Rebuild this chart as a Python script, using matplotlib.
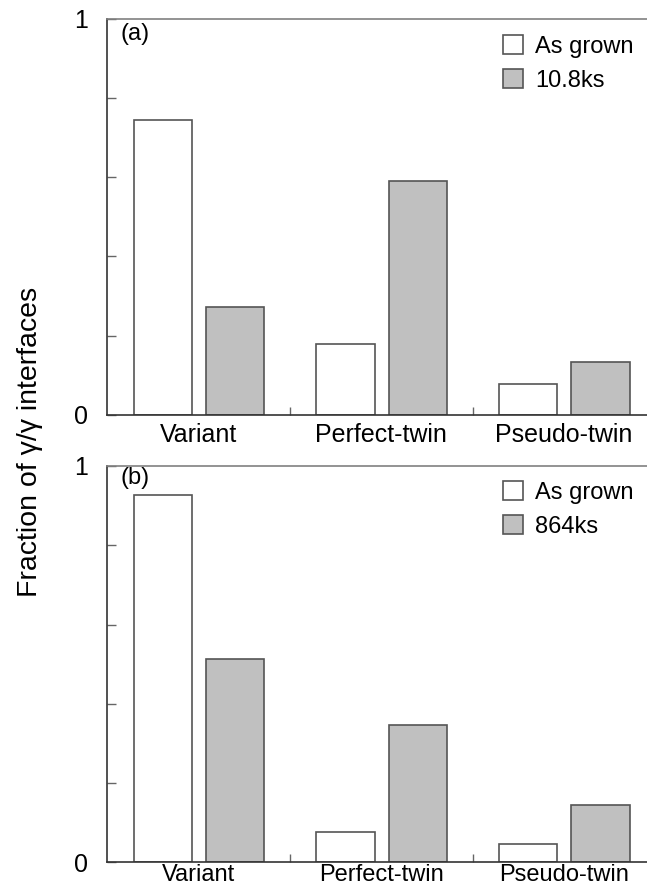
import matplotlib
matplotlib.use("Agg")
import matplotlib.pyplot as plt
import numpy as np

plt.rcParams['font.family'] = ['Liberation Sans', 'DejaVu Sans']

categories = ["Variant", "Perfect-twin", "Pseudo-twin"]
as_grown_a = [0.746, 0.178, 0.078]
annealed_a = [0.273, 0.591, 0.134]
as_grown_b = [0.928, 0.077, 0.046]
annealed_b = [0.513, 0.347, 0.145]
labels_a = ["As grown", "10.8ks"]
labels_b = ["As grown", "864ks"]
y_ticks = [0, 0.2, 0.4, 0.6, 0.8, 1.0]
y_ticklabels = ["0", "", "", "", "", "1"]

W, H = 647, 892
fig = plt.figure(figsize=(W / 100, H / 100), dpi=100)

x = np.arange(len(categories))
bw = 0.32


def panel(rect, white, gray, leg_labels, tag, tag_y, leg_y, cat_size, cat_pad):
    ax = fig.add_axes(rect)
    b1 = ax.bar(x + 0.304, white, bw, color="white", edgecolor="#555555", linewidth=1.2)
    b2 = ax.bar(x + 0.70, gray, bw, color="#c0c0c0", edgecolor="#555555", linewidth=1.2)
    ax.set_xlim(0, 3)
    ax.set_ylim(0, 1)
    ax.set_yticks(y_ticks)
    ax.set_yticklabels(y_ticklabels)
    ax.tick_params(axis="y", direction="in", length=6.7, width=1.0, color="#666666",
                   pad=14, labelsize=18)
    ax.set_xticks([1, 2])
    ax.set_xticklabels(["", ""])
    ax.tick_params(axis="x", which="major", direction="in", length=6, width=1.0, color="#666666")
    ax.set_xticks(x + 0.5, minor=True)
    ax.set_xticklabels(categories, minor=True)
    ax.tick_params(axis="x", which="minor", length=0, pad=cat_pad, labelsize=cat_size)
    ax.spines["right"].set_visible(False)
    ax.spines["top"].set_color("#808080")
    ax.spines["left"].set_color("#333333")
    ax.spines["bottom"].set_color("#333333")
    for s in ax.spines.values():
        s.set_linewidth(1.2)
    fig.text(121 / W, 1 - tag_y / H, tag, ha="left", va="center", fontsize=17)
    ax.legend([b1, b2], leg_labels, loc="upper left",
              bbox_to_anchor=(503 / W, 1 - leg_y / H), bbox_transform=fig.transFigure,
              frameon=False, fontsize=17, handlelength=0.85, handleheight=0.85,
              handletextpad=0.5, labelspacing=0.5, borderpad=0, borderaxespad=0)
    return ax


gw = 182.7
panel([107.3 / W, 1 - 414.7 / H, 3 * gw / W, 395.7 / H], as_grown_a, annealed_a,
      labels_a, "(a)", 34, 35, 18, 6)
panel([107.3 / W, 1 - 862.3 / H, 3 * gw / W, 396.3 / H], as_grown_b, annealed_b,
      labels_b, "(b)", 478, 481, 17, 1)

fig.text(30 / W, 1 - 442 / H, "Fraction of \u03b3/\u03b3 interfaces", rotation=90,
         ha="center", va="center", fontsize=20.5)

fig.savefig("out.png", dpi=100)
